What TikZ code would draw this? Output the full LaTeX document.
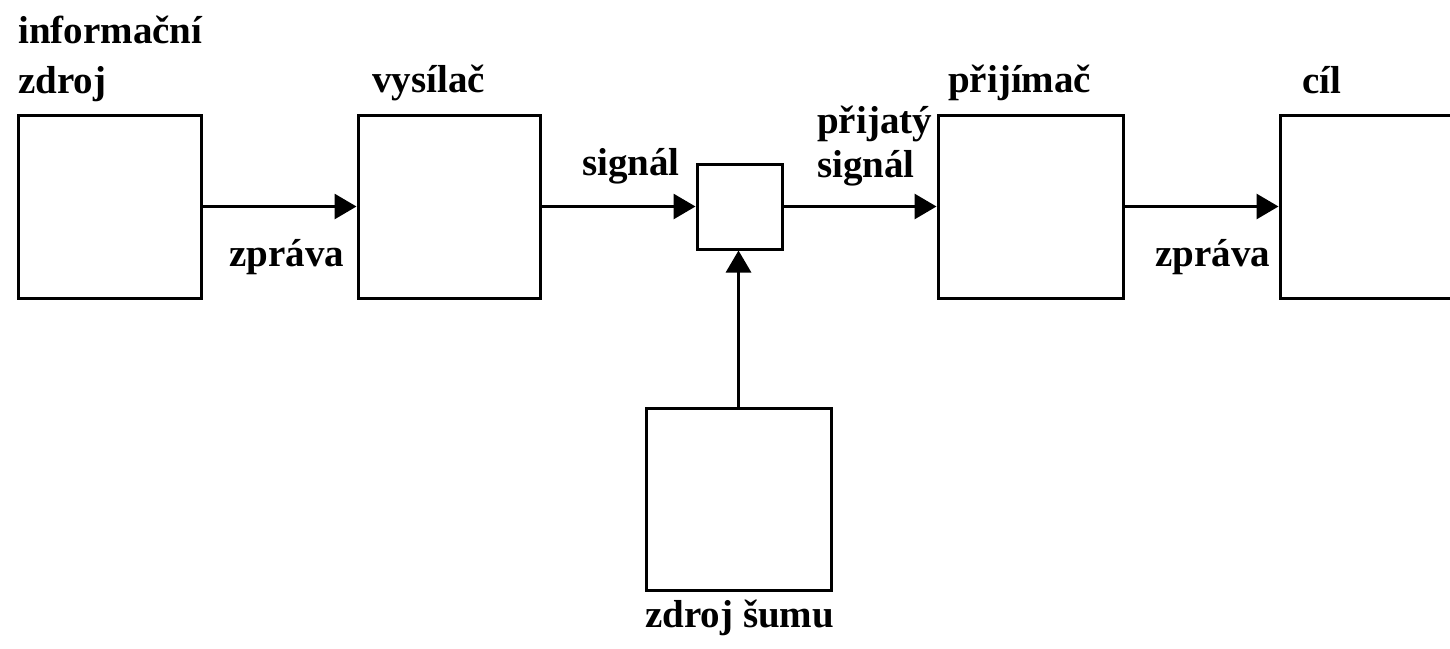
\documentclass[tikz,border=0pt]{standalone}
\usepackage{fontspec}
\setmainfont{Liberation Serif}
\usetikzlibrary{arrows.meta}
\tikzset{
  blk/.style={draw=black, line width=3pt, fill=none, inner sep=0pt, minimum width=183pt, minimum height=183pt},
  lbl/.style={anchor=base west, inner sep=0pt, font=\fontsize{39}{46}\selectfont\bfseries},
  conn/.style={line width=3pt, -{Triangle[length=22pt,width=25pt]}}
}
\begin{document}
\begin{tikzpicture}[x=1pt,y=-1pt]
\useasboundingbox[fill=white] (0,0) rectangle (1450,648);
\node[blk] (src) at (109.5,206.5) {};
\node[blk, minimum width=182pt] (tx) at (449,206.5) {};
\node[blk, minimum width=85pt, minimum height=85pt] (mix) at (739.5,206.5) {};
\node[blk, minimum width=185pt] (rx) at (1030.5,206.5) {};
\node[blk] (dst) at (1371.5,206.5) {};
\node[blk, minimum width=185pt, minimum height=182pt] (noise) at (738.5,499) {};

\draw[conn] (src.east) -- (tx.west);
\draw[conn] (tx.east) -- (mix.west);
\draw[conn] (mix.east) -- (rx.west);
\draw[conn] (rx.east) -- (dst.west);
\draw[conn] (noise.north) -- (noise.north |- mix.south);

\node[lbl] (t1) at (18,43) {informační};
\node[lbl] (t2) at (18,93) {zdroj};
\node[lbl] (t3) at (229,266) {zpráva};
\node[lbl] (t4) at (372,92) {vysílač};
\node[lbl] (t5) at (582,175) {signál};
\node[lbl] (t6) at (817,133) {přijatý};
\node[lbl] (t7) at (817,177) {signál};
\node[lbl] (t8) at (948,92) {přijímač};
\node[lbl] (t9) at (1155,266) {zpráva};
\node[lbl] (t10) at (1302,93) {cíl};
\node[lbl] (t11) at (645,627) {zdroj šumu};
\end{tikzpicture}
\end{document}
